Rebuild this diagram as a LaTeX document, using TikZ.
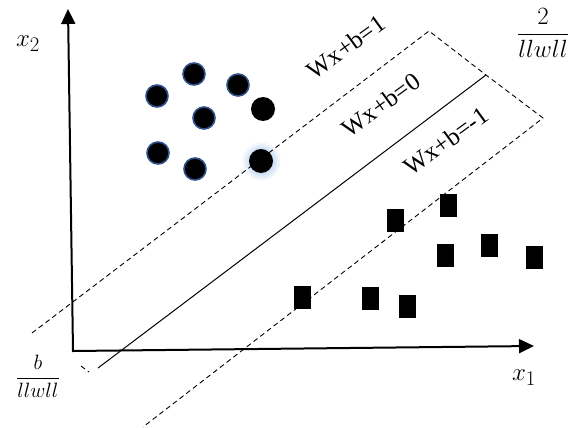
\documentclass[tikz,border=0pt]{standalone}
\usepackage{fontspec}
\setmainfont{Liberation Serif}
\usetikzlibrary{arrows.meta}
\definecolor{ringblue}{RGB}{47,82,143}
\definecolor{glowblue}{RGB}{130,175,230}
\tikzset{
  axis/.style={line width=2pt, line join=miter, {Triangle[length=15pt,width=14pt]}-{Triangle[length=15pt,width=14pt]}},
  margin/.style={line width=0.9pt, dash pattern=on 5pt off 3.5pt},
  hyper/.style={line width=1pt},
  dotb/.style={circle, fill=black, draw=ringblue, line width=1.6pt, minimum size=22pt, inner sep=0pt},
  dotk/.style={circle, fill=black, minimum size=24pt, inner sep=0pt},
  sq/.style={rectangle, fill=black, minimum width=17pt, minimum height=23pt, inner sep=0pt},
  eqlabel/.style={font=\fontsize{25}{27}\selectfont, rotate=36, inner sep=0pt},
  mathlbl/.style={font=\fontsize{28}{32}\selectfont, inner sep=0pt}
}
\begin{document}
\begin{tikzpicture}[x=1pt,y=-1pt]
\useasboundingbox (0,0) rectangle (578,428);
% glow
\shade[inner color=glowblue, outer color=white] (261,161) circle (20);
% axes
\coordinate (ytip) at (68,9);
\coordinate (orig) at (73,351);
\coordinate (xtip) at (534,346);
\draw[axis] (ytip) -- (orig) -- (xtip);
% lines
\coordinate (u1) at (32,333);
\coordinate (u2) at (429,31);
\coordinate (m1) at (98,368);
\coordinate (m2) at (486,75);
\coordinate (l1) at (143,427);
\coordinate (l2) at (543,118);
\coordinate (t1) at (81,366);
\coordinate (t2) at (89,372);
\draw[margin] (u1) -- (u2) -- (m2) -- (l2) -- (l1);
\draw[hyper] (m1) -- (m2);
\draw[margin] (t1) -- (t2);
% circles
\node[dotb] (c1) at (157,96) {};
\node[dotb] (c2) at (194,74) {};
\node[dotb] (c3) at (238,85) {};
\node[dotb] (c4) at (204,118) {};
\node[dotb] (c5) at (158,153) {};
\node[dotb] (c6) at (195,169) {};
\node[dotk] (c7) at (263,109) {};
\node[dotk] (c8) at (261,161) {};
% squares
\node[sq] (s1) at (395,220) {};
\node[sq] (s2) at (448,205) {};
\node[sq] (s3) at (445,255) {};
\node[sq] (s4) at (489,245) {};
\node[sq] (s5) at (534,257) {};
\node[sq] (s6) at (302,297) {};
\node[sq] (s7) at (370,298) {};
\node[sq] (s8) at (407,306) {};
% equation labels
\node[eqlabel] (e1) at (346,47) {Wx+b=1};
\node[eqlabel] (e0) at (381,105) {Wx+b=0};
\node[eqlabel] (em) at (446,141) {Wx+b=-1};
% axis labels
\node[mathlbl] (lx2) at (28,44) {$x_2$};
\node[mathlbl] (lx1) at (524,378) {$x_1$};
\node[mathlbl] (f2) at (543,33) {$\displaystyle\frac{2}{llwll}$};
\node[font=\fontsize{21}{24}\selectfont, inner sep=0pt] (fb) at (38,376) {$\displaystyle\frac{b}{llwll}$};
\end{tikzpicture}
\end{document}
